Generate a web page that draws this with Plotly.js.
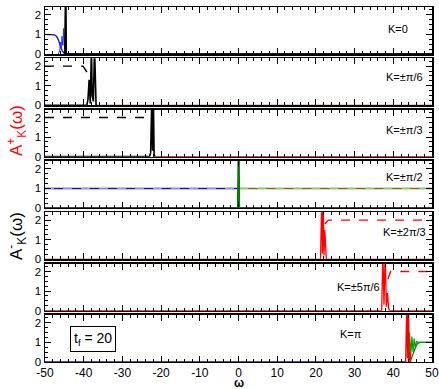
<!DOCTYPE html>
<html><head><meta charset="utf-8">
<script src="https://cdn.plot.ly/plotly-3.0.1.min.js"></script>
<style>html,body{margin:0;padding:0;background:#fff}#plot{width:439px;height:389px}</style>
</head><body><div id="plot"></div>
<script>
// ---- data ----
const panelLabels = ["K=0","K=±π/6","K=±π/3","K=±π/2","K=±2π/3","K=±5π/6","K=π"];
const labelX = [41.2, 43, 43, 43, 43, 31, 29];
const labelY = [1.28, 1.45, 1.38, 1.6, 1.38, 1.23, 1.43];

// Panel 1 (K=0)
const p1BlueX = [-50,-48,-47.5,-47,-46.5,-46,-45.5,-45,-44.5,50];
const p1BlueY = [1,1,0.98,0.9,0.7,0.4,0.15,0.03,0,0];
const p1OscX = [-46.6,-46.2,-46,-45.8,-45.6,-45.4,-45.2,-45,-44.8,-44.6];
const p1OscY = [0,0.15,0.6,0.25,0.9,0.45,1.3,0.4,0.8,0];
const p1BlackX = [-44.9,-44.8,-44.7,-44.6,-44.5,50];
const p1BlackY = [0,3,3,3,0,0];

// Panel 2 (K=±pi/6)
const p2DashX = [-50,-40.2,-38.8];
const p2DashY = [2,2,1.6];
const p2SolidX = [-50,-39.2,-38.9,-38.6,-38.3,-38.0,-37.8,-37.5,-37.2,-37.0,-36.8];
const p2SolidY = [0,0,0.3,1.3,0.1,3,0.5,0.2,3,0.1,0];
const p2RedX = [-36.8,50];
const p2RedY = [0,0];

// Panel 3 (K=±pi/3)
const p3DashX = [-50,-23.5,-22.6];
const p3DashY = [2,2,1.9];
const p3SolidX = [-50,-23,-22.7,-22.4,-22.2,-22.0,-21.8,-21.6];
const p3SolidY = [0,0,0.2,3,0.3,3,0.1,0];
const p3RedX = [-21.6,50];
const p3RedY = [0,0];

// Panel 4 (K=±pi/2)
const p4BlueX = [-50,-0.2];
const p4BlueY = [1,1];
const p4GreenX = [0.2,50];
const p4GreenY = [1,1];
const p4SpikeX = [-0.2,-0.1,0,0.1,0.2];
const p4SpikeY = [0,3,3,3,0];
const p4BaseX = [-50,50];
const p4BaseY = [0,0];

// Panel 5 (K=±2pi/3)
const p5DashX = [22.3,23.2,50];
const p5DashY = [1.8,2,2];
const p5SolidX = [-50,21.2,21.5,21.7,21.9,22.1,22.3,22.5,22.7,50];
const p5SolidY = [0,0,3,0.3,3,0.2,1.5,0.1,0,0];

// Panel 6 (K=±5pi/6)
const p6DashX = [38.6,39.3,50];
const p6DashY = [1.6,2,2];
const p6SolidX = [-50,37,37.3,37.6,37.9,38.2,38.5,38.8,39.1,50];
const p6SolidY = [0,0,3,0.3,3,0.2,0.9,0.1,0,0];

// Panel 7 (K=pi)
const p7BlueX = [-50,43.4];
const p7BlueY = [0,0];
const p7RedX = [43.2,43.5,43.7,43.9,44.1,44.3,44.5];
const p7RedY = [0,3,0.2,3,0.1,0.5,0];
const p7OscX = [43.9,44.2,44.5,44.8,45.1,45.4,45.7,46,46.4,47,50];
const p7OscY = [0,1.5,0.3,1.3,0.5,1.2,0.7,1.05,1,1,1];
const p7RiseX = [44,44.5,45,45.5,46,46.5,47,50];
const p7RiseY = [0,0.1,0.35,0.65,0.88,0.97,1,1];

const xTickVals = [-50,-40,-30,-20,-10,0,10,20,30,40,50];
const yTickVals = [0,1,2];

// ---- build ----
const traces = [];
function add(p, x, y, color, dash, width) {
  traces.push({x: x, y: y, xaxis: p===1?'x':'x'+p, yaxis: p===1?'y':'y'+p,
    mode:'lines', line:{color:color, dash:dash||'solid', width:width||1.3},
    hoverinfo:'skip', showlegend:false});
}
add(1, p1BlueX, p1BlueY, '#1010c8');
add(1, p1OscX, p1OscY, '#2030ff', 'solid', 1);
add(1, p1BlackX, p1BlackY, '#000000', 'solid', 1.6);

add(2, p2RedX, p2RedY, '#e00000');
add(2, p2DashX, p2DashY, '#000000', 'dash', 1.4);
add(2, p2SolidX, p2SolidY, '#000000', 'solid', 1.6);

add(3, p3RedX, p3RedY, '#e00000');
add(3, p3DashX, p3DashY, '#000000', 'dash', 1.4);
add(3, p3SolidX, p3SolidY, '#000000', 'solid', 1.6);

add(4, p4BaseX, p4BaseY, '#000000');
add(4, p4BlueX, p4BlueY, '#1010c8', 'solid', 1.5);
add(4, p4BlueX, p4BlueY, '#8fa8ff', 'dash', 1);
add(4, p4GreenX, p4GreenY, '#7a6a10', 'solid', 1.5);
add(4, p4GreenX, p4GreenY, '#70e070', 'dash', 1);
add(4, p4SpikeX, p4SpikeY, '#008000', 'solid', 1.8);

add(5, p5SolidX, p5SolidY, '#ff0000', 'solid', 1.3);
add(5, p5DashX, p5DashY, '#ff0000', 'dash', 1.4);

add(6, p6SolidX, p6SolidY, '#ff0000', 'solid', 1.3);
add(6, p6DashX, p6DashY, '#ff0000', 'dash', 1.4);

add(7, p7BlueX, p7BlueY, '#101080', 'solid', 1.5);
add(7, p7RiseX, p7RiseY, '#205020', 'solid', 1.2);
add(7, p7OscX, p7OscY, '#00a000', 'solid', 1.2);
add(7, p7RedX, p7RedY, '#ff0000', 'solid', 1.4);

const layout = {
  width: 439, height: 389,
  margin: {l: 45, r: 7, t: 7, b: 27},
  paper_bgcolor: '#fff', plot_bgcolor: '#fff',
  font: {family: 'Liberation Sans, Arial, sans-serif', size: 12, color: '#000'},
  showlegend: false,
  annotations: [], shapes: []
};
const plotH = 355, topPx = 7, panelH = 47, step = 51.33;
for (let i = 0; i < 7; i++) {
  const p = i + 1;
  const tp = topPx + i*step, bt = tp + panelH;
  const dom = [(362 - bt)/plotH, (362 - tp)/plotH];
  const xa = p===1?'xaxis':'xaxis'+p, ya = p===1?'yaxis':'yaxis'+p;
  const xr = p===1?'x':'x'+p, yr = p===1?'y':'y'+p;
  layout[xa] = {
    anchor: yr, domain: [0,1], range: [-50,50], matches: p===1?undefined:'x',
    tickvals: xTickVals, ticktext: xTickVals.map(String),
    showticklabels: p===7, ticks: 'inside', ticklen: 6, tickwidth: 1, tickcolor: '#000',
    minor: {dtick: 2, ticks: 'inside', ticklen: 3, tickwidth: 1, tickcolor: '#000'},
    showline: true, linecolor: '#000', linewidth: 1.5, mirror: 'allticks',
    showgrid: false, zeroline: false, tickfont: {size: 12}, ticklabelstandoff: -1
  };
  layout[ya] = {
    anchor: xr, domain: dom, range: [0, 2.4],
    tickvals: yTickVals, ticktext: yTickVals.map(String),
    ticks: 'inside', ticklen: 6, tickwidth: 1, tickcolor: '#000',
    minor: {dtick: 0.25, ticks: 'inside', ticklen: 3, tickwidth: 1, tickcolor: '#000'},
    showline: true, linecolor: '#000', linewidth: 1.5, mirror: 'allticks',
    showgrid: false, zeroline: false, tickfont: {size: 11.5}
  };
  layout.annotations.push({
    xref: xr, yref: yr, x: labelX[i], y: labelY[i], text: panelLabels[i],
    showarrow: false, font: {size: 11}, xanchor: 'center', yanchor: 'middle'
  });
}
layout.annotations.push({
  xref: 'x7', yref: 'y7', x: -37.5, y: 1.18, text: 't<sub>f</sub> = 20',
  showarrow: false, font: {size: 14}, bordercolor: '#000', borderwidth: 1, borderpad: 3,
  bgcolor: '#fff'
});
layout.annotations.push({
  xref: 'paper', yref: 'paper', x: -0.075, y: (362-130)/plotH,
  text: 'A<sup>+</sup><sub>K</sub>(ω)', textangle: -90, showarrow: false,
  font: {size: 17, color: '#ff0000'}, xanchor: 'center', yanchor: 'middle'
});
layout.annotations.push({
  xref: 'paper', yref: 'paper', x: -0.075, y: (362-236)/plotH,
  text: 'A<sup>-</sup><sub>K</sub>(ω)', textangle: -90, showarrow: false,
  font: {size: 17, color: '#000'}, xanchor: 'center', yanchor: 'middle'
});
layout.annotations.push({
  xref: 'paper', yref: 'paper', x: (238.5-45)/387, y: (362-383)/plotH,
  text: '<b>ω</b>', showarrow: false, font: {size: 12},
  xanchor: 'center', yanchor: 'middle'
});
Plotly.newPlot('plot', traces, layout, {staticPlot: true, displayModeBar: false});
</script></body></html>
